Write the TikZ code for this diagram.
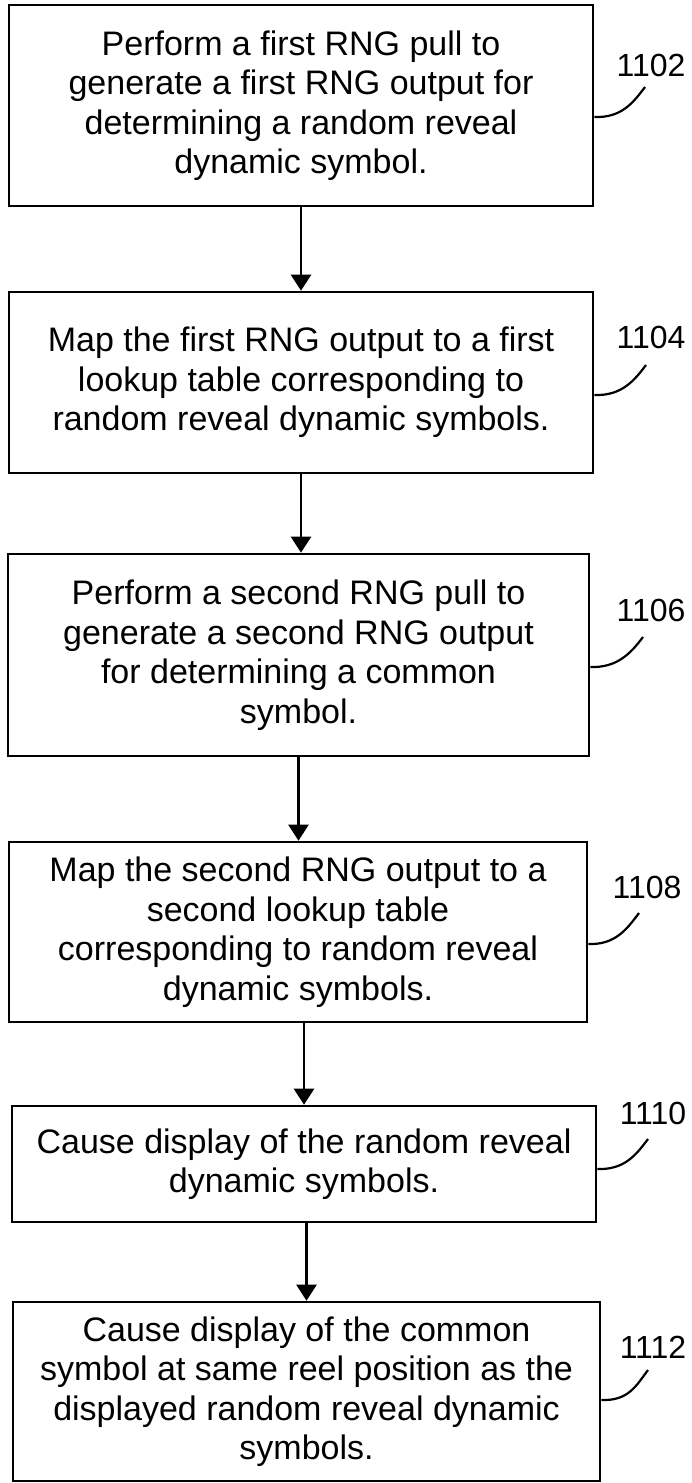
\documentclass[tikz,border=0pt]{standalone}
\usepackage{fontspec}
\setmainfont{Liberation Sans}
\usetikzlibrary{arrows.meta}

\begin{document}
\begin{tikzpicture}[x=1pt,y=-1pt,
  stepbox/.style={draw, line width=2.6pt, rectangle, inner sep=0pt, align=center,
    font=\fontsize{34pt}{39.5pt}\selectfont},
  flow/.style={line width=2.4pt, -{Triangle[width=20pt,length=16pt]}},
  leader/.style={line width=2.2pt},
  reflabel/.style={inner sep=0pt, font=\fontsize{32pt}{36pt}\selectfont}]

\useasboundingbox (0,0) rectangle (691,1483);

% process steps
\node[stepbox, minimum width=584pt, minimum height=201pt] (b1) at (301,105.5)
  {Perform a first RNG pull to\\generate a first RNG output for\\determining a random reveal\\dynamic symbol.};
\node[stepbox, minimum width=584pt, minimum height=181pt] (b2) at (301,382.5)
  {Map the first RNG output to a first\\lookup table corresponding to\\random reveal dynamic symbols.};
\node[stepbox, minimum width=581pt, minimum height=202pt] (b3) at (298.5,655)
  {Perform a second RNG pull to\\generate a second RNG output\\for determining a common\\symbol.};
\node[stepbox, minimum width=578pt, minimum height=180pt] (b4) at (298,932)
  {Map the second RNG output to a\\second lookup table\\corresponding to random reveal\\dynamic symbols.};
\node[stepbox, minimum width=584pt, minimum height=116pt] (b5) at (304,1164)
  {Cause display of the random reveal\\dynamic symbols.};
\node[stepbox, minimum width=587pt, minimum height=179pt] (b6) at (306.5,1391.5)
  {Cause display of the common\\symbol at same reel position as the\\displayed random reveal dynamic\\symbols.};

% flow arrows
\draw[flow] (b1.south) -- (b1.south |- b2.north);
\draw[flow] (b2.south) -- (b2.south |- b3.north);
\draw[flow] (b3.south) -- (b3.south |- b4.north);
\draw[flow] (b5.north |- b4.south) -- (b5.north);
\draw[flow] (b6.north |- b5.south) -- (b6.north);

% reference numerals
\node[reflabel] (l1) at (651,65)   {1102};
\node[reflabel] (l2) at (651,337)  {1104};
\node[reflabel] (l3) at (651,610)  {1106};
\node[reflabel] (l4) at (647,887)  {1108};
\node[reflabel] (l5) at (653,1113) {1110};
\node[reflabel] (l6) at (653,1347) {1112};

% leader ends under the numerals
\coordinate (e1) at (645,87);
\coordinate (e2) at (646,365);
\coordinate (e3) at (643,637);
\coordinate (e4) at (639,913);
\coordinate (e5) at (648,1139);
\coordinate (e6) at (648,1370);

% leader lines
\draw[leader] (b1.east |- 0,117)  .. controls +(27,1) and +(-12,16) .. (e1);
\draw[leader] (b2.east |- 0,395)  .. controls +(27,1) and +(-12,16) .. (e2);
\draw[leader] (b3.east |- 0,667)  .. controls +(27,1) and +(-12,16) .. (e3);
\draw[leader] (b4.east |- 0,944)  .. controls +(27,1) and +(-12,16) .. (e4);
\draw[leader] (b5.east |- 0,1169) .. controls +(27,1) and +(-12,16) .. (e5);
\draw[leader] (b6.east |- 0,1400) .. controls +(27,1) and +(-12,16) .. (e6);

\end{tikzpicture}
\end{document}
